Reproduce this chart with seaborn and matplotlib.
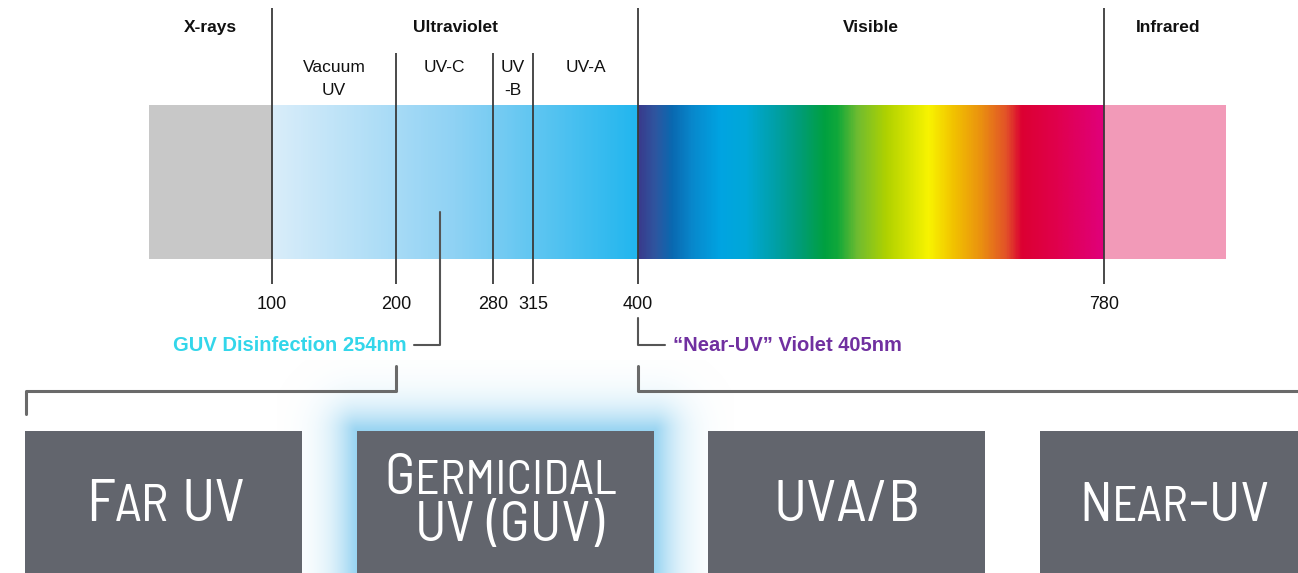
import numpy as np
import matplotlib
matplotlib.use("Agg")
import matplotlib.pyplot as plt
import seaborn as sns
from matplotlib import font_manager
from matplotlib.colors import LinearSegmentedColormap, to_rgb
from matplotlib.patches import Rectangle

# ---- data ----
edge_nm = [100, 200, 280, 315, 400, 780]
tick_labels = [str(v) for v in edge_nm]
region_names = ["X-rays", "Ultraviolet", "Visible", "Infrared"]
uv_bands = ["Vacuum\nUV", "UV-C", "UV\n-B", "UV-A"]
guv_note = "GUV Disinfection 254nm"
violet_note = "\u201cNear-UV\u201d Violet 405nm"
box_labels = ["Far UV", "Germicidal\nUV (GUV)", "UVA/B", "Near-UV"]

# visible spectrum stops (relative position in band, colour)
visible_stops = [(0.00, "#393b8c"), (0.035, "#2e56a0"), (0.07, "#0a68b0"),
                 (0.115, "#0888cc"), (0.176, "#00a4e2"), (0.23, "#00a8d8"),
                 (0.292, "#00a0a8"), (0.346, "#009c78"), (0.40, "#00a040"),
                 (0.428, "#10a83a"), (0.472, "#70bc30"), (0.534, "#b0d200"),
                 (0.624, "#f8f400"), (0.676, "#f2c400"), (0.738, "#ea9010"),
                 (0.792, "#e25228"), (0.825, "#dc0032"), (0.90, "#e0004c"),
                 (1.00, "#e0007a")]

# ---- layout (pixel units) ----
edge_px = [272, 396, 493, 533, 638, 1104]
bar_left, bar_right = 149, 1226
bar_top, bar_bot = 105, 259
boxes_x = [(25, 302), (357, 654), (708, 985), (1040, 1317)]
box_top = 431

sns.set_theme(style="white")
names = {f.name for f in font_manager.fontManager.ttflist}


def pick(options):
    for o in options:
        if o in names:
            return o
    return "DejaVu Sans"


sans = pick(["Liberation Sans", "DejaVu Sans"])
cond = pick(["Barlow Semi Condensed", "Fira Sans Condensed", "Roboto Condensed",
             "Saira Semi Condensed", "Pragati Narrow", "Liberation Sans Narrow"])
plt.rcParams["font.family"] = [sans, "DejaVu Sans"]

fig = plt.figure(figsize=(12.98, 5.73), dpi=100)
ax = fig.add_axes([0, 0, 1, 1])
ax.set_facecolor("white")

# ---- spectrum bar ----
ax.add_patch(Rectangle((bar_left, bar_top), edge_px[0] - bar_left, bar_bot - bar_top,
                       color="#c8c8c8", lw=0))
ax.add_patch(Rectangle((edge_px[-1], bar_top), bar_right - edge_px[-1], bar_bot - bar_top,
                       color="#f29ab8", lw=0))

uv_pal = np.array(sns.blend_palette(["#d9edfa", "#8fd2f4", "#22b6ee"], 300))
ax.imshow(uv_pal[np.newaxis, :, :], extent=(edge_px[0], edge_px[4], bar_bot, bar_top),
          aspect="auto", interpolation="bilinear")

vis_cmap = LinearSegmentedColormap.from_list("vis", visible_stops)
vis = vis_cmap(np.linspace(0, 1, 600))[np.newaxis, :, :3]
ax.imshow(vis, extent=(edge_px[4], edge_px[5], bar_bot, bar_top),
          aspect="auto", interpolation="bilinear")

# ---- divider lines ----
line_col = "#3a3a3a"
for i, x in enumerate(edge_px):
    top = 8 if i in (0, 4, 5) else 53
    ax.plot([x, x], [top, 284], color=line_col, lw=1.3, solid_capstyle="butt")

# ---- labels ----
region_edges = [bar_left, edge_px[0], edge_px[4], edge_px[5], bar_right]
for i, name in enumerate(region_names):
    xc = (region_edges[i] + region_edges[i + 1]) / 2
    ax.text(xc + (3 if i == 3 else 0), 32, name, ha="center", va="baseline",
            fontsize=12.5, fontweight="bold", color="#111111")

for i, name in enumerate(uv_bands):
    xc = (edge_px[i] + edge_px[i + 1]) / 2
    for j, line in enumerate(name.split("\n")):
        ax.text(xc, 71.5 + j * 23.5, line, ha="center", va="baseline",
                fontsize=12.5, color="#111111")

for x, lab in zip(edge_px, tick_labels):
    ax.text(x, 309, lab, ha="center", va="baseline", fontsize=13, color="#111111")

# ---- pointers ----
lead_col = "#555555"
ax.plot([440, 440, 414], [212, 345, 345], color=lead_col, lw=1.5)
ax.text(407, 351, guv_note, ha="right", va="baseline", fontsize=14.5,
        fontweight="bold", color="#33d6ea")
ax.plot([638, 638, 665], [318, 345, 345], color=lead_col, lw=1.5)
ax.text(673, 351, violet_note, ha="left", va="baseline", fontsize=14.5,
        fontweight="bold", color="#7030a0")

# ---- brackets ----
br_col = "#6a6a6a"
ax.plot([396, 396, 26, 26], [366, 391, 391, 414], color=br_col, lw=2.2)
ax.plot([638, 638, 1298], [366, 391, 391], color=br_col, lw=2.2)

# ---- glow behind GUV box ----
gx0, gx1 = boxes_x[1]
gxs = np.arange(gx0 - 80, gx1 + 80) + 0.5
gys = np.arange(360, 573) + 0.5
GX, GY = np.meshgrid(gxs, gys)
dx = np.maximum(0, np.maximum(gx0 - GX, GX - gx1))
dy = np.maximum(0, box_top - GY)
dist = np.hypot(dx, dy)
glow = np.zeros(GX.shape + (4,))
glow[..., :3] = to_rgb("#86ccef")
glow[..., 3] = 0.85 * np.exp(-(dist / 24.0) ** 1.3)
ax.imshow(glow, extent=(gx0 - 80, gx1 + 80, 573, 360), aspect="auto",
          interpolation="bilinear", zorder=1)

# ---- boxes ----
for x0, x1 in boxes_x:
    ax.add_patch(Rectangle((x0, box_top), x1 - x0, 200, color="#62656d", lw=0, zorder=2))

renderer = fig.canvas.get_renderer()


def small_caps(xc, yb, text, width, ratio, family, size0=40):
    # fake small caps: lower-case letters drawn as smaller capitals
    runs = []
    for ch in text:
        kind = "space" if ch == " " else ("small" if ch.islower() else "big")
        if runs and runs[-1][1] == kind:
            runs[-1][0] += ch.upper()
        else:
            runs.append([ch.upper(), kind])
    arts = []
    for s, kind in runs:
        if kind == "space":
            arts.append((None, kind, len(s)))
            continue
        t = ax.text(0, yb, s, color="white", family=family, fontweight="normal",
                    ha="left", va="baseline", zorder=3)
        arts.append((t, kind, len(s)))

    def layout(size):
        pieces = []
        for t, kind, n in arts:
            if t is None:
                pieces.append((None, size * 100 / 72 * 0.2 * n))
                continue
            t.set_fontsize(size * ratio if kind == "small" else size)
            pieces.append((t, t.get_window_extent(renderer).width))
        return pieces

    total = sum(w for _, w in layout(size0))
    pieces = layout(size0 * width / total)
    x = xc - sum(w for _, w in pieces) / 2
    for t, w in pieces:
        if t is not None:
            t.set_x(x)
        x += w


l1, l2 = box_labels[1].split("\n")
small_caps(165.5, 521, box_labels[0], 159, 0.88, cond)
small_caps(500.5, 494, l1, 232, 0.84, cond)
small_caps(509.5, 541, l2, 190, 0.84, cond)
small_caps(846.5, 521, box_labels[2], 147, 0.88, cond)
small_caps(1174, 521, box_labels[3], 190, 0.88, cond)

ax.set_xlim(0, 1298)
ax.set_ylim(573, 0)
ax.axis("off")
fig.savefig("out.png", dpi=100, facecolor="white")
